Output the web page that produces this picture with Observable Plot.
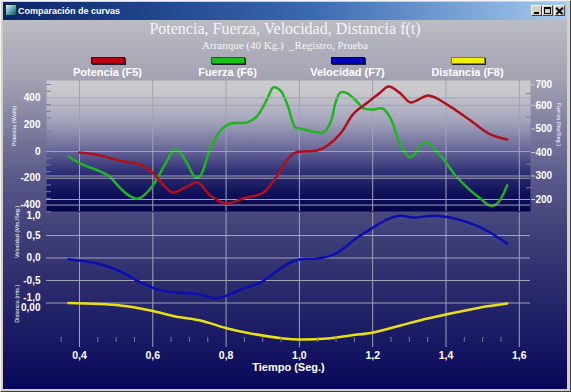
<!DOCTYPE html>
<html><head><meta charset="utf-8">
<script src="https://cdn.jsdelivr.net/npm/d3@7"></script>
<script src="https://cdn.jsdelivr.net/npm/@observablehq/plot@0.6"></script>
<style>
html,body{margin:0;padding:0;background:#d4d0c8;}
#win{position:relative;width:571px;height:392px;overflow:hidden;background:#d4d0c8;font-family:"Liberation Sans",Arial,sans-serif;}
#edge{position:absolute;left:0;top:0;width:569px;height:390px;border-top:1px solid #f4f4f4;border-left:1px solid #f4f4f4;border-right:1px solid #404040;border-bottom:1px solid #404040;}
#titlebar{position:absolute;left:3px;top:2px;width:564px;height:18px;background:linear-gradient(to right,#0a246a,#3a6ab0 55%,#a6caf0);}
#icon{position:absolute;left:2px;top:2px;width:12px;height:12px;background:linear-gradient(135deg,#e8f0f0,#4a9aa8 60%,#1a4a5a);border:1px solid #0a2a3a;box-sizing:border-box;}
#titletext{position:absolute;left:15px;top:3px;color:#fff;font:bold 9px "Liberation Sans",Arial,sans-serif;line-height:12px;}
.btn{position:absolute;top:3px;width:11px;height:11px;background:#d4d0c8;border-top:1px solid #fff;border-left:1px solid #fff;border-right:1px solid #404040;border-bottom:1px solid #404040;box-sizing:border-box;}
.btn .g{position:absolute;background:#000;}
#body{position:absolute;left:3px;top:20px;width:564px;height:369px;background:linear-gradient(to bottom,#bcbcc4 0%,#a2a2b2 16%,#58588a 43%,#3c3c76 60%,#26266a 76%,#07075a 100%);}
#title{position:absolute;left:3px;top:19px;width:564px;text-align:center;color:#f4f4f4;font:16px "Liberation Serif","Times New Roman",serif;line-height:20px;}
#subtitle{position:absolute;left:3px;top:39px;width:564px;text-align:center;color:#f4f4f4;font:11px "Liberation Serif","Times New Roman",serif;line-height:13px;white-space:pre;}
#legend{position:absolute;left:47.5px;top:57px;width:480px;display:flex;}
#legend .item{width:120px;text-align:center;}
#legend .sw{display:block;margin:0 auto;width:32px;height:5px;border:1px solid rgba(0,0,0,0.45);box-shadow:1px 1px 0 #202030;}
#legend .lb{display:block;margin-top:2px;color:#fff;font:bold 11px "Liberation Sans",Arial,sans-serif;line-height:13px;white-space:nowrap;}
</style></head>
<body>
<div id="win">
  <div id="edge"></div>
  <div id="titlebar">
    <div id="icon"></div>
    <div id="titletext">Comparación de curvas</div>
    <div class="btn" style="left:528px"><div class="g" style="left:2px;top:6px;width:5px;height:2px"></div></div>
    <div class="btn" style="left:539px"><div class="g" style="left:1px;top:1px;width:7px;height:7px;background:transparent;border:1px solid #000;border-top-width:2px;box-sizing:border-box"></div></div>
    <div class="btn" style="left:551px">
      <div class="g" style="left:0px;top:4px;width:9px;height:1.5px;transform:rotate(45deg)"></div>
      <div class="g" style="left:0px;top:4px;width:9px;height:1.5px;transform:rotate(-45deg)"></div>
    </div>
  </div>
  <div id="body"></div>
  <div id="title">Potencia, Fuerza, Velocidad, Distancia f(t)</div>
  <div id="subtitle">Arranque (40 Kg.)  _Registro, Prueba</div>
  <div id="legend"></div>
</div>
<script>
// ---------------- data ----------------
const seriesNames  = ["Potencia (F5)", "Fuerza (F6)", "Velocidad (F7)", "Distancia (F8)"];
const seriesColors = ["#b0101e", "#20b420", "#0a10b0", "#e8e010"];
const legendColors = ["#b80012", "#18c018", "#0000b8", "#f0f000"];

// Potencia (Watts) vs tiempo (s)
const tPotencia = [0.400,0.457,0.512,0.566,0.599,0.626,0.654,0.689,0.722,0.757,0.798,0.847,0.902,0.940,0.984,1.049,1.077,1.112,1.148,1.186,1.221,1.243,1.276,1.303,1.352,1.399,1.467,1.521,1.567];
const potencia  = [-7,-30,-71,-97,-157,-239,-306,-269,-231,-328,-388,-351,-306,-179,-15,7,45,134,283,366,440,485,433,366,418,358,231,127,90];

// Fuerza vs tiempo
const tFuerza = [0.370,0.403,0.457,0.479,0.512,0.539,0.561,0.594,0.635,0.662,0.689,0.717,0.730,0.757,0.785,0.812,0.858,0.886,0.913,0.929,0.948,0.968,0.989,1.003,1.049,1.066,1.085,1.099,1.112,1.131,1.159,1.175,1.202,1.227,1.249,1.276,1.303,1.344,1.385,1.426,1.467,1.494,1.521,1.540,1.567];
const fuerza  = [383,353,319,302,247,213,204,247,353,417,366,294,302,417,494,523,528,557,630,677,664,600,506,502,485,485,528,613,655,651,613,587,583,587,545,430,379,443,387,302,238,204,174,183,260];

// Velocidad (Mts./Seg.) vs tiempo
const tVelocidad = [0.370,0.457,0.512,0.566,0.621,0.676,0.730,0.771,0.793,0.847,0.894,0.940,0.976,1.003,1.049,1.077,1.104,1.159,1.202,1.240,1.276,1.311,1.366,1.412,1.494,1.567];
const velocidad  = [-0.03,-0.14,-0.30,-0.54,-0.72,-0.77,-0.81,-0.90,-0.86,-0.68,-0.54,-0.28,-0.10,-0.03,-0.01,0.03,0.12,0.46,0.68,0.86,0.94,0.90,0.94,0.90,0.68,0.32];

// Distancia (mts.) vs tiempo
const tDistancia = [0.370,0.512,0.594,0.662,0.730,0.804,0.867,0.957,1.003,1.077,1.139,1.202,1.276,1.350,1.412,1.494,1.567];
const distancia  = [0,-0.025,-0.076,-0.137,-0.177,-0.258,-0.309,-0.359,-0.370,-0.359,-0.329,-0.298,-0.227,-0.157,-0.106,-0.045,-0.005];

// ticks
const tiempoTicks = [0.4,0.6,0.8,1.0,1.2,1.4,1.6];
const tiempoMinor = [0.35,0.45,0.5,0.55,0.65,0.7,0.75,0.85,0.9,0.95,1.05,1.1,1.15,1.25,1.3,1.35,1.45,1.5,1.55];
const potenciaTicks = [400,200,0,-200,-400];
const potenciaGrid  = [400,0,-200,-400];
const potenciaMinor = [500,450,350,300,250,150,100,50,-50,-100,-150,-250,-300,-350,-450];
const fuerzaTicks = [600,500,400,300,200];
const fuerzaTop   = [700];
const fuerzaGrid  = [600,300,200];
const fuerzaMinor = [650,550,450,350,250];
const velocidadTicks = [0.5,0,-0.5];
const velocidadGrid  = [0.5,0,-0.5,-1];

// ---------------- legend ----------------
const leg = document.getElementById("legend");
seriesNames.forEach((n, i) => {
  const it = document.createElement("div"); it.className = "item";
  it.innerHTML = `<span class="sw" style="background:${legendColors[i]}"></span><span class="lb">${n}</span>`;
  leg.appendChild(it);
});

// ---------------- helpers ----------------
const rows = (ts, vs) => ts.map((t, i) => ({t, v: vs[i]}));
const fmt1 = v => v.toFixed(1).replace(".", ",");
const GRID = "#a2a2b6", TICK = "#c8c8d4", MINOR = "#7a7a94";
const W = 571, H = 392, ML = 46, MR = 41;
const X = {domain: [0.31, 1.6306], axis: null, label: null};
const common = {width: W, height: H, marginLeft: ML, marginRight: MR};
const lineOpts = c => ({x: "t", y: "v", stroke: c, strokeWidth: 2.5, curve: "catmull-rom"});
const smallLabel = {text: d => d, fill: "white", fontSize: 5.5, fontWeight: "normal"};
const ax = o => ({label: null, ...o});

function gradient(id, stops) {
  return () => {
    const ns = "http://www.w3.org/2000/svg";
    const defs = document.createElementNS(ns, "defs");
    const g = document.createElementNS(ns, "linearGradient");
    g.setAttribute("id", id);
    g.setAttribute("x1", "0"); g.setAttribute("y1", "0");
    g.setAttribute("x2", "0"); g.setAttribute("y2", "1");
    for (const [o, c] of stops) {
      const s = document.createElementNS(ns, "stop");
      s.setAttribute("offset", o); s.setAttribute("stop-color", c);
      g.appendChild(s);
    }
    defs.appendChild(g);
    return defs;
  };
}

function place(svg) {
  svg.style.position = "absolute";
  svg.style.left = "0px";
  svg.style.top = "0px";
  svg.style.background = "transparent";
  svg.style.color = "white";
  svg.style.fontFamily = '"Liberation Sans", Arial, sans-serif';
  svg.style.fontWeight = "bold";
  svg.style.fontSize = "10px";
  svg.style.overflow = "visible";
  svg.style.maxWidth = "none";
  document.getElementById("win").appendChild(svg);
}

// ---------------- top panel: Fuerza (right axis, with panel background) ----------------
place(Plot.plot({
  ...common, marginTop: 80, marginBottom: 181,
  x: X, y: {domain: [149, 706], axis: null, label: null},
  marks: [
    gradient("gradTop", [[0, "#cdcdcf"], [0.1, "#c6c6cc"], [0.3, "#a6a6be"], [0.5, "#70709e"], [0.68, "#34347a"], [0.85, "#12125c"], [1, "#04044a"]]),
    Plot.frame({fill: "url(#gradTop)"}),
    Plot.gridX(tiempoTicks, {stroke: GRID, strokeOpacity: 1}),
    Plot.ruleY(fuerzaGrid, {stroke: GRID}),
    Plot.line(rows(tFuerza, fuerza), lineOpts(seriesColors[1])),
    Plot.axisY(fuerzaMinor, ax({anchor: "right", tickSize: 5, dx: -5, tickFormat: () => "", stroke: MINOR})),
    Plot.axisY(fuerzaTicks, ax({anchor: "right", tickSize: 4, tickPadding: 1, stroke: TICK, tickFormat: d => String(d)})),
    Plot.axisY(fuerzaTop, ax({anchor: "right", tickSize: 4, tickPadding: 1, dy: 3, stroke: TICK, tickFormat: d => String(d)})),
    Plot.text(["Fuerza (Nw/Seg.)"], {...smallLabel, frameAnchor: "right", dx: 28, rotate: 90})
  ]
}));

// ---------------- top panel: Potencia (left axis) ----------------
place(Plot.plot({
  ...common, marginTop: 80, marginBottom: 181,
  x: X, y: {domain: [-448, 530], axis: null, label: null},
  marks: [
    Plot.ruleY(potenciaGrid, {stroke: GRID}),
    Plot.line(rows(tPotencia, potencia), lineOpts(seriesColors[0])),
    Plot.axisY(potenciaMinor, ax({anchor: "left", tickSize: 5, dx: 5, tickFormat: () => "", stroke: MINOR})),
    Plot.axisY(potenciaTicks, ax({anchor: "left", tickSize: 0, tickPadding: 6, tickFormat: d => String(d)})),
    Plot.text(["Potencia (Watts)"], {...smallLabel, frameAnchor: "left", dx: -32, rotate: -90})
  ]
}));

// ---------------- middle panel: Velocidad ----------------
place(Plot.plot({
  ...common, marginTop: 212.5, marginBottom: 89.5,
  x: X, y: {domain: [-1, 1], axis: null, label: null},
  marks: [
    Plot.gridX(tiempoTicks, {stroke: GRID, strokeOpacity: 1}),
    Plot.ruleY(velocidadGrid, {stroke: GRID}),
    Plot.line(rows(tVelocidad, velocidad), lineOpts(seriesColors[2])),
    Plot.axisY(velocidadTicks, ax({anchor: "left", tickSize: 0, tickPadding: 6, tickFormat: fmt1})),
    Plot.axisY([1], ax({anchor: "left", tickSize: 0, tickPadding: 6, dy: 3, tickFormat: fmt1})),
    Plot.axisY([-1], ax({anchor: "left", tickSize: 0, tickPadding: 6, dy: -5, tickFormat: fmt1})),
    Plot.text(["Velocidad (Mts./Seg.)"], {...smallLabel, frameAnchor: "left", dx: -29, rotate: -90})
  ]
}));

// ---------------- bottom panel: Distancia + time axis ----------------
place(Plot.plot({
  ...common, marginTop: 302.5, marginBottom: 50,
  x: X, y: {domain: [-0.4, 0], axis: null, label: null},
  marks: [
    Plot.gridX(tiempoTicks, {stroke: GRID, strokeOpacity: 1}),
    Plot.line(rows(tDistancia, distancia), lineOpts(seriesColors[3])),
    Plot.axisX(tiempoMinor, ax({anchor: "bottom", tickSize: 5, dy: -5, tickFormat: () => "", stroke: MINOR})),
    Plot.axisX(tiempoTicks, ax({anchor: "bottom", tickSize: 5, tickPadding: 4, stroke: GRID, fontSize: 10.5, tickFormat: fmt1})),
    Plot.axisY([0], ax({anchor: "left", tickSize: 0, tickPadding: 6, dy: 4.5, tickFormat: v => v.toFixed(2).replace(".", ",")})),
    Plot.text(["Distancia (mts.)"], {...smallLabel, frameAnchor: "left", dx: -29, rotate: -90}),
    Plot.text(["Tiempo (Seg.)"], {text: d => d, frameAnchor: "bottom", dy: 28, fill: "white", fontSize: 11, fontWeight: "bold"})
  ]
}));
</script>
</body></html>
